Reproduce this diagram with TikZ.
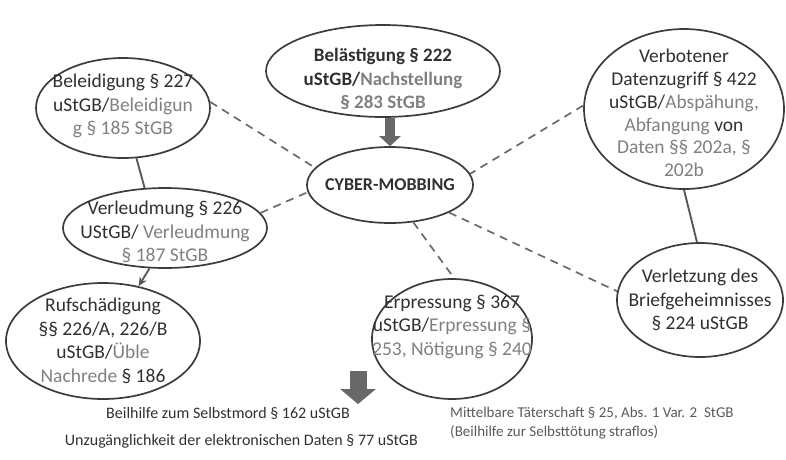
\documentclass[tikz,border=0pt]{standalone}
\usepackage{fontspec}
\setmainfont{Carlito}
\usetikzlibrary{shapes.geometric,arrows.meta}
\definecolor{inkdark}{HTML}{303030}
\definecolor{inkgray}{HTML}{808080}
\definecolor{rimgray}{HTML}{3C3C3C}
\definecolor{dashgray}{HTML}{6A6A6A}
\definecolor{blockgray}{HTML}{686868}
\newcommand{\de}[1]{\textcolor{inkgray}{#1}}

\begin{document}
\begin{tikzpicture}[x=1pt,y=-1pt,
    bubble/.style={ellipse,draw=rimgray,line width=1.7pt,inner sep=0pt},
    bubbletext/.style={align=center,text=inkdark,inner sep=0pt,
      font=\fontsize{19.5}{23.5}\selectfont},
    dashline/.style={dashgray,line width=1.7pt,dash pattern=on 8pt off 6pt},
    solidline/.style={rimgray!85,line width=1.9pt},
    blockarrow/.style={blockgray,line width=10pt,-{Triangle[width=21pt,length=10pt]}},
    note/.style={inner sep=0pt,text=inkdark,font=\fontsize{16}{19}\selectfont}]

  \useasboundingbox (0,0) rectangle (786,459);

  % the bubbles
  \node[bubble,minimum width=166pt,minimum height=76pt] (cyber) at (390,185) {};
  \node[bubbletext,font=\fontsize{18}{22}\selectfont\bfseries] (cyberT) at (cyber) {CYBER-MOBBING};

  \node[bubble,minimum width=234pt,minimum height=92pt] (bela) at (383,71) {};
  \node[bubbletext,font=\fontsize{19}{23.5}\selectfont\bfseries] (belaT) at (383,79)
    {Belästigung § 222\\uStGB/\de{Nachstellung}\\\de{§ 283 StGB}};

  \node[bubble,minimum width=174pt,minimum height=100pt] (bel) at (123,108) {};
  \node[bubbletext] (belT) at (123,106)
    {Beleidigung § 227\\uStGB/\de{Beleidigun}\\\de{g § 185 StGB}};

  \node[bubble,minimum width=200pt,minimum height=160pt] (verb) at (684,109) {};
  \node[bubbletext,font=\fontsize{19.5}{22.8}\selectfont] (verbT) at (684,113)
    {Verbotener\\Datenzugriff § 422\\uStGB/\de{Abspähung,}\\\de{Abfangung} von\\\de{Daten §§ 202a, §}\\\de{202b}};

  \node[bubble,minimum width=204pt,minimum height=80pt] (verl) at (165,228) {};
  \node[bubbletext] (verlT) at (165,232)
    {Verleudmung § 226\\UStGB/ \de{Verleudmung}\\\de{§ 187 StGB}};

  \node[bubble,minimum width=194pt,minimum height=116pt] (ruf) at (103,341) {};
  \node[bubbletext] (rufT) at (103,341)
    {Rufschädigung\\§§ 226/A, 226/B\\uStGB/\de{Üble}\\\de{Nachrede} § 186};

  \node[bubble,minimum width=160pt,minimum height=120pt] (erp) at (452,339) {};
  \node[bubbletext] (erpT) at (452,327)
    {Erpressung § 367\\uStGB/\de{Erpressung §}\\\de{253, Nötigung § 240}};

  \node[bubble,minimum width=166pt,minimum height=114pt] (verz) at (700,300) {};
  \node[bubbletext] (verzT) at (700,300)
    {Verletzung des\\Briefgeheimnisses\\§ 224 uStGB};

  % links
  \draw[dashline] (bel.4) -- (cyber.167);
  \draw[dashline] (verb.178) -- (cyber.8);
  \draw[dashline] (verl.9) -- (cyber.185);
  \draw[dashline] (cyber.-58) -- (erp.88);
  \draw[dashline] (cyber.-25) -- (verz.174);
  \draw[solidline] (bel.-75) -- (verl.117);
  \draw[solidline] (verb.-90) -- (verz.93);
  \draw[solidline,-{Stealth[length=9pt,width=8pt]}] (verl.-111) -- (ruf.57);
  \draw[blockarrow] (bela.south -| cyber.north) -- (cyber.north);

  % below
  \coordinate (dropA) at (358,371);
  \coordinate (dropB) at (358,404);
  \draw[blockarrow,line width=17pt,-{Triangle[width=35pt,length=15pt]}] (dropA) -- (dropB);

  \node[note] (suicide) at (228,413) {Beilhilfe zum Selbstmord § 162 uStGB};
  \node[note,anchor=east] (access) at (418,441) {Unzugänglichkeit der elektronischen Daten § 77 uStGB};
  \node[note,anchor=west,align=left,text=inkdark!80,font=\fontsize{15}{18.5}\selectfont] (perp) at (450,423)
    {Mittelbare Täterschaft § 25, Abs. 1 Var. 2\ \ StGB\\(Beilhilfe zur Selbsttötung straflos)};
\end{tikzpicture}
\end{document}
